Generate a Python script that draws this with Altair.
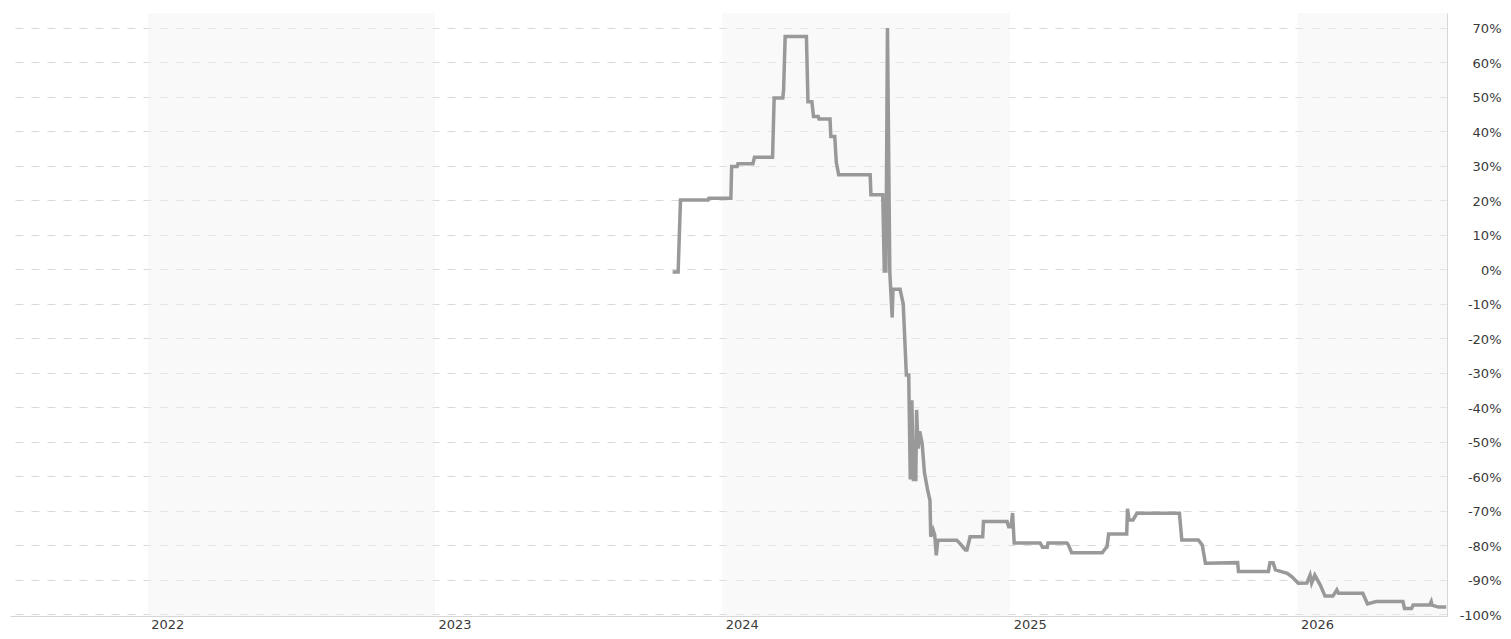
import altair as alt
import pandas as pd

# ---- data ----
dates = [
    "2023-10-30", "2023-11-06", "2023-11-09", "2023-12-14", "2023-12-15",
    "2024-01-12", "2024-01-13", "2024-01-20", "2024-01-21", "2024-02-09",
    "2024-02-11", "2024-03-05", "2024-03-07", "2024-03-18", "2024-03-19",
    "2024-03-21", "2024-04-17", "2024-04-19", "2024-04-24", "2024-04-26",
    "2024-05-02", "2024-05-03", "2024-05-17", "2024-05-18", "2024-05-23",
    "2024-05-25", "2024-05-28", "2024-07-07", "2024-07-08", "2024-07-23",
    "2024-07-25", "2024-07-26", "2024-07-27", "2024-07-29", "2024-08-01",
    "2024-08-04", "2024-08-05", "2024-08-14", "2024-08-18", "2024-08-22",
    "2024-08-25", "2024-08-27", "2024-08-29", "2024-08-31", "2024-09-03",
    "2024-09-04", "2024-09-06", "2024-09-08", "2024-09-11", "2024-09-14",
    "2024-09-18", "2024-09-21", "2024-09-22", "2024-09-25", "2024-09-27",
    "2024-09-29", "2024-10-01", "2024-10-25", "2024-10-29", "2024-11-05",
    "2024-11-07", "2024-11-11", "2024-11-27", "2024-11-28", "2024-12-28",
    "2024-12-30", "2025-01-02", "2025-01-04", "2025-01-06", "2025-02-08",
    "2025-02-11", "2025-02-17", "2025-02-18", "2025-03-14", "2025-03-16",
    "2025-03-20", "2025-04-28", "2025-05-02", "2025-05-04", "2025-05-06",
    "2025-05-29", "2025-05-30", "2025-06-01", "2025-06-06", "2025-06-11",
    "2025-08-04", "2025-08-07", "2025-08-28", "2025-09-02", "2025-09-06",
    "2025-10-17", "2025-10-18", "2025-11-25", "2025-11-27", "2025-12-01",
    "2025-12-04", "2025-12-19", "2025-12-25", "2026-01-02", "2026-01-13",
    "2026-01-17", "2026-01-19", "2026-01-23", "2026-01-30", "2026-02-05",
    "2026-02-15", "2026-02-20", "2026-02-22", "2026-03-25", "2026-03-31",
    "2026-04-11", "2026-05-15", "2026-05-17", "2026-05-26", "2026-05-28",
    "2026-06-18", "2026-06-20", "2026-06-21", "2026-06-29", "2026-07-09",
]
values = [
    -0.8, -0.8, 20.1, 20.1, 20.6,
    20.6, 29.8, 29.8, 30.6, 30.6,
    32.5, 32.5, 49.7, 49.7, 52.0,
    67.5, 67.5, 48.6, 48.6, 44.3,
    44.3, 43.6, 43.6, 38.5, 38.5,
    31.0, 27.4, 27.4, 21.6, 21.6,
    -1.0, 18.0, -1.0, 70.0, -1.0,
    -14.0, -5.8, -5.8, -10.0, -30.7,
    -30.7, -61.0, -38.0, -61.0, -61.0,
    -40.8, -52.0, -47.0, -50.4, -59.0,
    -64.0, -67.0, -77.6, -75.6, -77.0,
    -83.0, -78.6, -78.6, -79.5, -81.4,
    -81.4, -77.6, -77.6, -73.2, -73.2,
    -74.7, -74.7, -70.7, -79.4, -79.4,
    -80.6, -80.6, -79.4, -79.4, -80.0,
    -82.2, -82.2, -81.0, -80.5, -76.8,
    -76.8, -69.5, -72.7, -72.7, -70.8,
    -70.8, -78.5, -78.5, -80.0, -85.3,
    -85.1, -87.7, -87.7, -85.1, -85.1,
    -87.2, -88.2, -89.2, -91.1, -91.0,
    -88.7, -91.0, -88.7, -91.6, -94.8,
    -94.8, -93.0, -94.0, -94.0, -97.1,
    -96.4, -96.4, -98.4, -98.4, -97.4,
    -97.4, -96.4, -97.4, -98.0, -98.0,
]

years = [2022, 2023, 2024, 2025, 2026]
band_start = ["2022-01-01", "2024-01-01", "2026-01-01"]
band_end = ["2023-01-01", "2025-01-01", "2027-01-01"]
y_ticks = [70, 60, 50, 40, 30, 20, 10, 0, -10, -20, -30, -40, -50, -60, -70, -80, -90, -100]

line_df = pd.DataFrame({"date": dates, "value": values})
band_df = pd.DataFrame({"start": band_start, "end": band_end})

W, H = 1437, 603
FONT = "DejaVu Sans"

x_scale = alt.Scale(
    type="utc",
    domain=[alt.DateTime(year=2021, month=7, date=10, utc=True),
            alt.DateTime(year=2026, month=7, date=10, utc=True)],
)
y_scale = alt.Scale(domain=[-100.58, 74.35], nice=False, zero=False)

x_axis = alt.Axis(
    values=[alt.DateTime(year=y, month=1, date=1, utc=True) for y in years],
    labelExpr="utcFormat(datum.value, '%Y')",
    grid=False, ticks=False,
    domainColor="#d6d6d6", domainWidth=1,
    labelAlign="left", labelOffset=3, labelPadding=2,
    labelFont=FONT, labelFontSize=13, labelColor="#3a3a3a",
    title=None,
)
y_axis = alt.Axis(
    orient="right", values=y_ticks,
    labelExpr="datum.value + '%'",
    grid=True, gridDash=[8, 8], gridColor="#d9d9d9", gridWidth=1,
    ticks=False, domainColor="#d6d6d6", domainWidth=1,
    labelAlign="right", labelPadding=54, labelBaseline="middle", labelOffset=1,
    labelFont=FONT, labelFontSize=13, labelColor="#3a3a3a",
    title=None,
)

bands = alt.Chart(band_df).mark_rect(
    color="#f2f2f2", opacity=0.45, clip=True
).encode(
    x=alt.X("start:T", scale=x_scale, axis=x_axis),
    x2="end:T",
    y=alt.value(0),
    y2=alt.value(H),
)

line = alt.Chart(line_df).mark_line(
    color="#999999", strokeWidth=3.5, interpolate="linear", clip=True
).encode(
    x=alt.X("date:T", scale=x_scale, axis=x_axis),
    y=alt.Y("value:Q", scale=y_scale, axis=y_axis),
)

chart = alt.layer(bands, line).properties(
    width=W, height=H,
    autosize=alt.AutoSizeParams(type="none"),
    padding={"left": 2, "top": 5, "right": 56, "bottom": 15},
).configure_view(stroke=None)

chart.save("out.html", embed_options={"renderer": "svg", "actions": False})
